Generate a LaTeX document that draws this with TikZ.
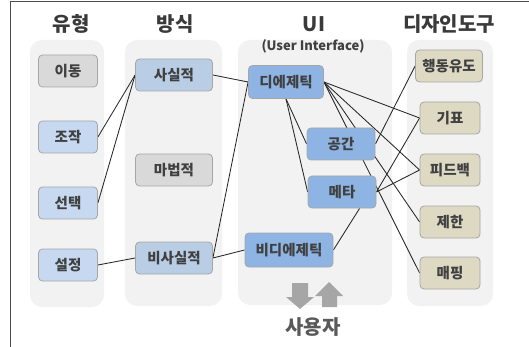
\documentclass[tikz,border=0pt]{standalone}
\usepackage{xcolor}
\usepackage{fontspec}
\usepackage{tikz}
\setmainfont{Noto Sans CJK KR}

\definecolor{colbg}{HTML}{F2F2F2}
\definecolor{greybox}{HTML}{D9D9D9}
\definecolor{typeblue}{HTML}{C6D9F1}
\definecolor{wayblue}{HTML}{B9CDE5}
\definecolor{uiblue}{HTML}{8DB4E2}
\definecolor{toolbeige}{HTML}{DDD9C3}
\definecolor{rim}{HTML}{A6A6A6}
\definecolor{ink}{HTML}{404040}

\pgfdeclarelayer{bg}
\pgfdeclarelayer{lines}
\pgfsetlayers{bg,lines,main}

\begin{document}
\begin{tikzpicture}[x=1pt, y=-1pt, node distance=52pt]
        % Define styles
        \tikzstyle{box} = [rectangle, draw=rim, line width=0.8pt, rounded corners=4pt, minimum height=32pt, text=ink, font=\fontsize{14.5}{14.5}\selectfont\bfseries, inner sep=0pt]
        \tikzstyle{typebox} = [box, fill=typeblue, minimum width=59pt]
        \tikzstyle{waybox} = [box, fill=wayblue, minimum width=77pt]
        \tikzstyle{uibox} = [box, fill=uiblue, minimum width=68pt]
        \tikzstyle{toolbox} = [box, fill=toolbeige, minimum width=60pt]
        \tikzstyle{heading} = [text=ink!90!black, font=\fontsize{20}{20}\selectfont\bfseries]
        \tikzstyle{column} = [fill=colbg, rounded corners=12pt]
        \tikzstyle{link} = [line width=0.85pt, draw=black!85]
        \tikzstyle{userarrow} = [fill=rim]

        \useasboundingbox (0,0) rectangle (529,347);
        \draw [black!70, line width=1pt] (10,347) -- (10,2) -- (529,2);

        % Headings
        \node (typehead) [heading] at (71,24) {유형};
        \node (wayhead) [heading] at (175,24) {방식};
        \node (uihead) [heading] at (314,24) {UI};
        \node (uisub) [text=ink, font=\fontsize{13}{13}\selectfont\bfseries] at (313,46) {(User Interface)};
        \node (toolhead) [heading] at (449,24) {디자인도구};

        % Nodes
        \node (move) [typebox, fill=greybox] at (68,71) {이동};
        \node (manip) [typebox, below of=move, yshift=-14pt] {조작};
        \node (select) [typebox, below of=manip, yshift=-14pt] {선택};
        \node (setting) [typebox, below of=select, yshift=-10pt] {설정};

        \node (real) [waybox] at (174,75) {사실적};
        \node (magic) [waybox, fill=greybox, below of=real, yshift=-43pt] {마법적};
        \node (unreal) [waybox, below of=magic, yshift=-36pt] {비사실적};

        \node (diegetic) [uibox, minimum width=75pt, minimum height=33pt] at (286,82) {디에제틱};
        \node (spatial) [uibox] at (341,144) {공간};
        \node (meta) [uibox, below of=spatial, yshift=4pt, xshift=1pt] {메타};
        \node (nondiegetic) [uibox, minimum width=88pt, minimum height=34pt] at (289,250) {비디에제틱};

        \node (affordance) [toolbox, minimum width=67pt] at (449,66) {행동유도};
        \node (signifier) [toolbox, below of=affordance, xshift=1pt] {기표};
        \node (feedback) [toolbox, below of=signifier] {피드백};
        \node (constraint) [toolbox, below of=feedback] {제한};
        \node (mapping) [toolbox, below of=constraint, yshift=1pt] {매핑};

        % Columns
        \begin{pgfonlayer}{bg}
            \fill [column] (30,40) rectangle (104,307);
            \fill [column] (125,40) rectangle (222,306);
            \fill [column] (238,40) rectangle (392,305);
            \fill [column] (407,40) rectangle (493,306);
        \end{pgfonlayer}

        % Connections
        \begin{pgfonlayer}{lines}
            \draw [link] (manip.east) -- (real.west);
            \draw [link] (select.east) -- (real.west);
            \draw [link] (setting.east) -- (unreal.west);
            \draw [link] (real.east) -- (diegetic.west);
            \draw [link] (unreal.east) -- (diegetic.west);
            \draw [link] (unreal.east) -- (nondiegetic.west);
            \draw [link] (diegetic.south) -- (spatial.west);
            \draw [link] (diegetic.south) -- (meta.west);
            \draw [link] (diegetic.east) -- (signifier.west);
            \draw [link] (diegetic.east) -- (feedback.west);
            \draw [link] (diegetic.east) -- (constraint.west);
            \draw [link] (diegetic.east) -- (mapping.west);
            \draw [link] (spatial.east) -- (affordance.west);
            \draw [link] (meta.east) -- (signifier.west);
            \draw [link] (meta.east) -- (feedback.west);
            \draw [link] (meta.-43) -- (nondiegetic.east);
        \end{pgfonlayer}

        % User
        \fill [userarrow] (292,283) -- (308,283) -- (308,297) -- (314,297) -- (300,309) -- (286,297) -- (292,297) -- cycle;
        \fill [userarrow] (322,307) -- (337,307) -- (337,296) -- (343,296) -- (329,282) -- (315,296) -- (322,296) -- cycle;
        \node (user) [text=black!65, font=\fontsize{20}{20}\selectfont\bfseries] at (313,327) {사용자};

\end{tikzpicture}
\end{document}
